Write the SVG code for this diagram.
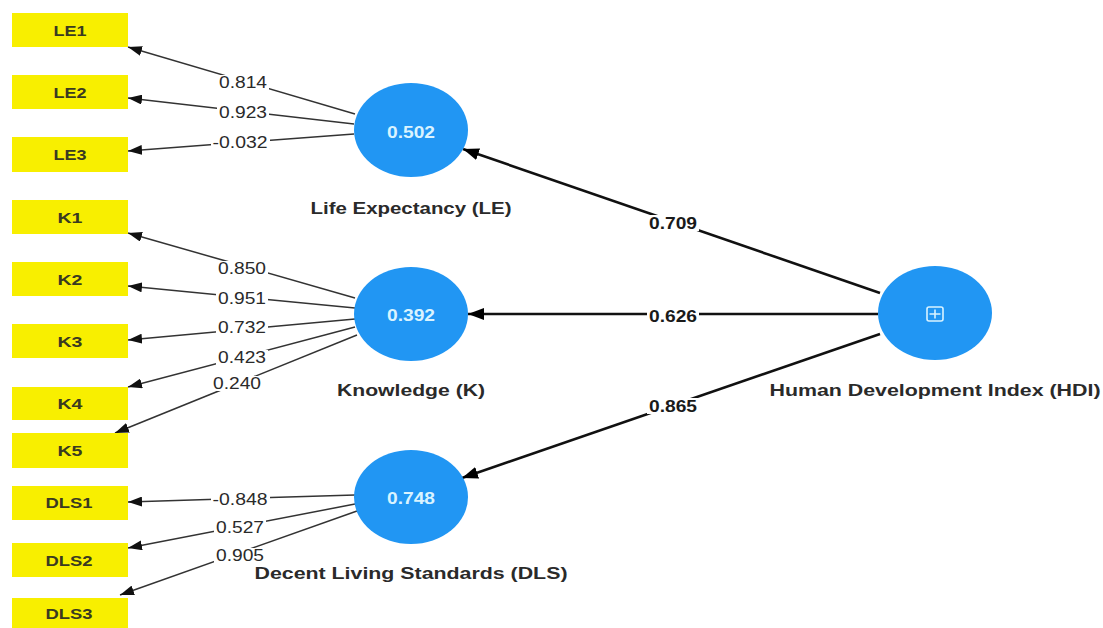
<svg xmlns="http://www.w3.org/2000/svg" width="1103" height="628" viewBox="0 0 1103 628">
<style>
.box{fill:#f8ef00}
.bt{font-family:"Liberation Sans",Arial,sans-serif;font-size:15px;font-weight:bold;fill:#3a3a20;text-anchor:middle}
.lv{fill:#2196f3}
.lt{font-family:"Liberation Sans",Arial,sans-serif;font-size:16px;font-weight:bold;fill:#d9f3ff;text-anchor:middle}
.nm{font-family:"Liberation Sans",Arial,sans-serif;font-size:16px;font-weight:bold;fill:#2a2a2a;text-anchor:middle}
.ol{stroke:#333;stroke-width:1.5;fill:none;marker-end:url(#as)}
.sl{stroke:#111;stroke-width:2.6;fill:none;marker-end:url(#al)}
.bg{fill:#fff}
.wl{font-family:"Liberation Sans",Arial,sans-serif;font-size:16px;fill:#2a2a2a;text-anchor:middle}
.ws{font-family:"Liberation Sans",Arial,sans-serif;font-size:16px;font-weight:bold;fill:#1a1a1a;text-anchor:middle}
</style>
<defs>
<marker id="as" viewBox="0 0 14 10" refX="14" refY="5" markerWidth="14" markerHeight="10" markerUnits="userSpaceOnUse" orient="auto"><path d="M0,0 L14,5 L0,10 z" fill="#111"/></marker>
<marker id="al" viewBox="0 0 16 12" refX="16" refY="6" markerWidth="16" markerHeight="12" markerUnits="userSpaceOnUse" orient="auto"><path d="M0,0 L16,6 L0,12 z" fill="#000"/></marker>
</defs>
<rect width="1103" height="628" fill="#fff"/>
<g id="connectors">
<line class="ol" x1="355" y1="114" x2="128" y2="47"/>
<line class="ol" x1="354" y1="124" x2="128" y2="98"/>
<line class="ol" x1="354" y1="134" x2="128" y2="151"/>
<line class="ol" x1="355" y1="298" x2="128" y2="233"/>
<line class="ol" x1="355" y1="308" x2="128" y2="286"/>
<line class="ol" x1="355" y1="319" x2="128" y2="340"/>
<line class="ol" x1="355" y1="327" x2="128" y2="387"/>
<line class="ol" x1="357" y1="335" x2="115" y2="433"/>
<line class="ol" x1="355" y1="495" x2="128" y2="502"/>
<line class="ol" x1="355" y1="504" x2="128" y2="548"/>
<line class="ol" x1="357" y1="511" x2="120" y2="595"/>
<line class="sl" x1="880" y1="293" x2="463" y2="149"/>
<line class="sl" x1="878" y1="314" x2="468" y2="314"/>
<line class="sl" x1="880" y1="334" x2="462" y2="478"/>
<rect class="bg" x="217" y="75" width="52" height="15"/>
<rect class="bg" x="217" y="105" width="52" height="15"/>
<rect class="bg" x="211" y="135" width="59" height="15"/>
<rect class="bg" x="216" y="261" width="52" height="15"/>
<rect class="bg" x="216" y="291" width="52" height="15"/>
<rect class="bg" x="216" y="320" width="52" height="15"/>
<rect class="bg" x="216" y="350" width="52" height="15"/>
<rect class="bg" x="211" y="376" width="52" height="15"/>
<rect class="bg" x="211" y="492" width="59" height="15"/>
<rect class="bg" x="214" y="520" width="52" height="15"/>
<rect class="bg" x="214" y="548" width="52" height="15"/>
<rect class="bg" x="647" y="215" width="52" height="16"/>
<rect class="bg" x="647" y="308" width="52" height="16"/>
<rect class="bg" x="647" y="398" width="52" height="16"/>
<text class="wl" x="243" y="88" textLength="48" lengthAdjust="spacingAndGlyphs">0.814</text>
<text class="wl" x="243" y="118" textLength="48" lengthAdjust="spacingAndGlyphs">0.923</text>
<text class="wl" x="240" y="148" textLength="55" lengthAdjust="spacingAndGlyphs">-0.032</text>
<text class="wl" x="242" y="274" textLength="48" lengthAdjust="spacingAndGlyphs">0.850</text>
<text class="wl" x="242" y="304" textLength="48" lengthAdjust="spacingAndGlyphs">0.951</text>
<text class="wl" x="242" y="333" textLength="48" lengthAdjust="spacingAndGlyphs">0.732</text>
<text class="wl" x="242" y="363" textLength="48" lengthAdjust="spacingAndGlyphs">0.423</text>
<text class="wl" x="237" y="389" textLength="48" lengthAdjust="spacingAndGlyphs">0.240</text>
<text class="wl" x="240" y="505" textLength="55" lengthAdjust="spacingAndGlyphs">-0.848</text>
<text class="wl" x="240" y="533" textLength="48" lengthAdjust="spacingAndGlyphs">0.527</text>
<text class="wl" x="240" y="561" textLength="48" lengthAdjust="spacingAndGlyphs">0.905</text>
<text class="ws" x="673" y="229" textLength="48" lengthAdjust="spacingAndGlyphs">0.709</text>
<text class="ws" x="673" y="322" textLength="48" lengthAdjust="spacingAndGlyphs">0.626</text>
<text class="ws" x="673" y="412" textLength="48" lengthAdjust="spacingAndGlyphs">0.865</text>
</g>
<g id="LE1"><rect class="box" x="12" y="13" width="116" height="34"/><text class="bt" x="70" y="36" textLength="33" lengthAdjust="spacingAndGlyphs">LE1</text></g>
<g id="LE2"><rect class="box" x="12" y="75" width="116" height="34"/><text class="bt" x="70" y="98" textLength="33" lengthAdjust="spacingAndGlyphs">LE2</text></g>
<g id="LE3"><rect class="box" x="12" y="137" width="116" height="35"/><text class="bt" x="70" y="160" textLength="33" lengthAdjust="spacingAndGlyphs">LE3</text></g>
<g id="K1"><rect class="box" x="12" y="200" width="116" height="34"/><text class="bt" x="70" y="223" textLength="25" lengthAdjust="spacingAndGlyphs">K1</text></g>
<g id="K2"><rect class="box" x="12" y="262" width="116" height="34"/><text class="bt" x="70" y="285" textLength="25" lengthAdjust="spacingAndGlyphs">K2</text></g>
<g id="K3"><rect class="box" x="12" y="324" width="116" height="34"/><text class="bt" x="70" y="347" textLength="25" lengthAdjust="spacingAndGlyphs">K3</text></g>
<g id="K4"><rect class="box" x="12" y="387" width="116" height="33"/><text class="bt" x="70" y="409" textLength="25" lengthAdjust="spacingAndGlyphs">K4</text></g>
<g id="K5"><rect class="box" x="12" y="433" width="116" height="35"/><text class="bt" x="70" y="456" textLength="25" lengthAdjust="spacingAndGlyphs">K5</text></g>
<g id="DLS1"><rect class="box" x="12" y="486" width="116" height="34"/><text class="bt" x="69" y="508" textLength="47" lengthAdjust="spacingAndGlyphs">DLS1</text></g>
<g id="DLS2"><rect class="box" x="12" y="543" width="116" height="34"/><text class="bt" x="69" y="566" textLength="47" lengthAdjust="spacingAndGlyphs">DLS2</text></g>
<g id="DLS3"><rect class="box" x="12" y="598" width="116" height="30"/><text class="bt" x="69" y="619" textLength="47" lengthAdjust="spacingAndGlyphs">DLS3</text></g>
<g id="LE"><ellipse class="lv" cx="411" cy="130" rx="57" ry="47"/><text class="lt" x="411" y="138" textLength="48" lengthAdjust="spacingAndGlyphs">0.502</text><text class="nm" x="411" y="214" textLength="201" lengthAdjust="spacingAndGlyphs">Life Expectancy (LE)</text></g>
<g id="K"><ellipse class="lv" cx="411" cy="314" rx="57" ry="47"/><text class="lt" x="411" y="321" textLength="48" lengthAdjust="spacingAndGlyphs">0.392</text><text class="nm" x="411" y="396" textLength="148" lengthAdjust="spacingAndGlyphs">Knowledge (K)</text></g>
<g id="DLS"><ellipse class="lv" cx="411" cy="497" rx="57" ry="47"/><text class="lt" x="411" y="504" textLength="48" lengthAdjust="spacingAndGlyphs">0.748</text><text class="nm" x="411" y="579" textLength="313" lengthAdjust="spacingAndGlyphs">Decent Living Standards (DLS)</text></g>
<g id="HDI"><ellipse class="lv" cx="935" cy="313" rx="57" ry="47"/><rect x="927" y="307" width="16" height="14" rx="2" fill="none" stroke="#d9f3ff" stroke-width="1.6"/><path d="M935 309.5V318.5M929.5 314H940.5" stroke="#d9f3ff" stroke-width="1.6"/><text class="nm" x="935" y="396" textLength="331" lengthAdjust="spacingAndGlyphs">Human Development Index (HDI)</text></g>
</svg>
